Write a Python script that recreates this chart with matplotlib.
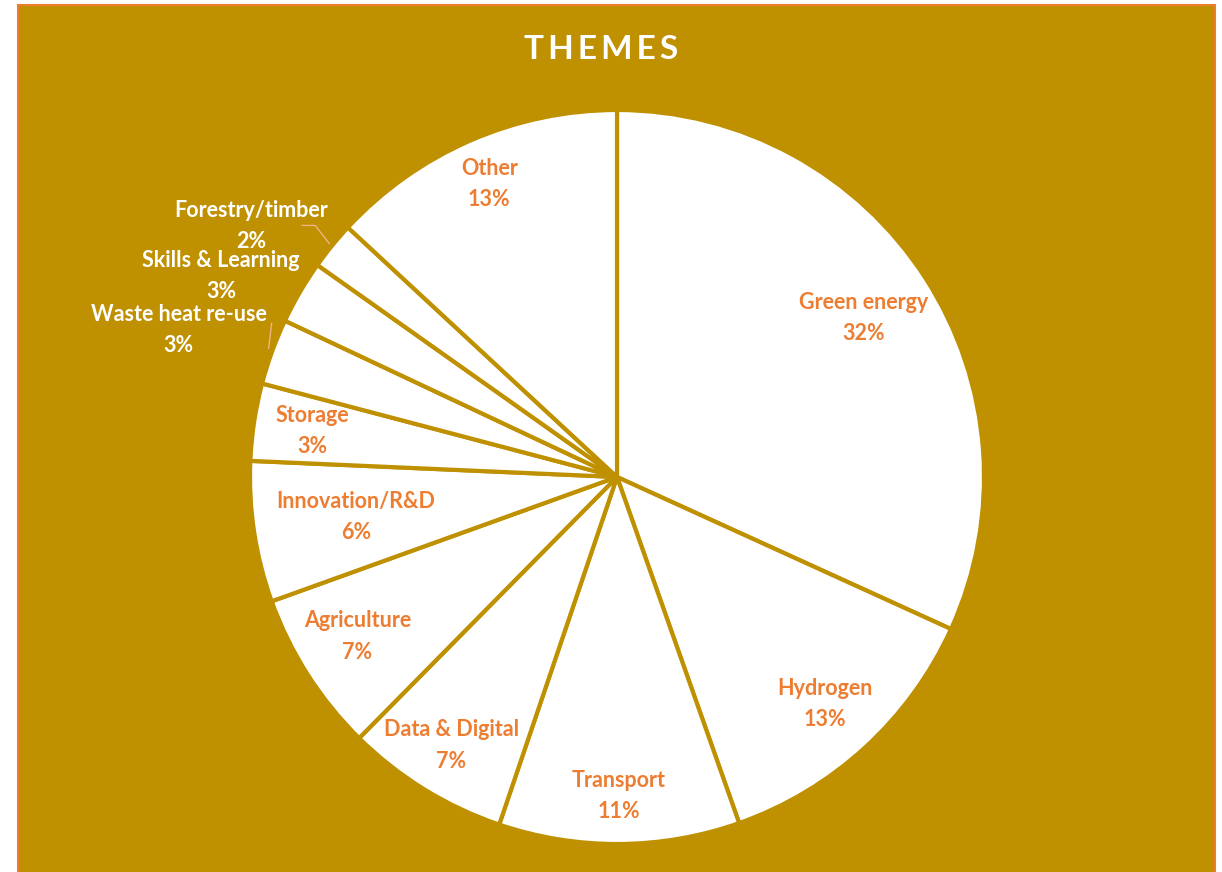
import numpy as np
import matplotlib
matplotlib.use("Agg")
import matplotlib.pyplot as plt
from matplotlib.patches import Rectangle

plt.rcParams['font.family'] = ['Lato', 'DejaVu Sans']

# data (share of themes, %)
themes = ['Green energy', 'Hydrogen', 'Transport', 'Data & Digital', 'Agriculture',
          'Innovation/R&D', 'Storage', 'Waste heat re-use', 'Skills & Learning',
          'Forestry/timber', 'Other']
shares = [31.8, 12.8, 10.6, 7.2, 7.1, 6.2, 3.4, 2.9, 2.8, 2.1, 13.1]
pct_labels = ['32%', '13%', '11%', '7%', '7%', '6%', '3%', '3%', '3%', '2%', '13%']

# label placement: radius (fraction of pie radius) and angle nudge (deg)
label_r = [0.80, 0.84, 0.87, 0.86, 0.83, 0.72, 0.84, 1.26, 1.21, 1.21, 0.87]
label_dang = [0, 0, 0, 0, -1, 0, 0, 1.4, 3.3, 4.6, 0]
outside = [False] * 7 + [True, True, True] + [False]

GOLD = '#BF9000'
ORANGE = '#ED7D31'

W, H = 1222, 872
fig = plt.figure(figsize=(W / 100, H / 100), dpi=100, facecolor='white')
ax = fig.add_axes([0, 0, 1, 1])

# gold panel with thin orange border
ax.add_patch(Rectangle((18, -5), 1197, H, facecolor=GOLD,
                       edgecolor=ORANGE, linewidth=1.5, zorder=0))

cx, cy, R = 617, H - 477, 367
wedges, _ = ax.pie(shares, startangle=90, counterclock=False, center=(cx, cy),
                   radius=R, colors=['white'] * len(shares),
                   wedgeprops=dict(edgecolor=GOLD, linewidth=3), frame=True)
ax.set_xlim(0, W)
ax.set_ylim(0, H)
ax.set_aspect('equal')
ax.axis('off')

for i, w in enumerate(wedges):
    mid = (w.theta1 + w.theta2) / 2
    ang = np.deg2rad(mid + label_dang[i])
    x = cx + label_r[i] * R * np.cos(ang)
    y = cy + label_r[i] * R * np.sin(ang)
    col = 'white' if outside[i] else ORANGE
    ax.text(x, y, themes[i] + '\n' + pct_labels[i], ha='center', va='center',
            color=col, fontsize=15.5, fontweight='bold', linespacing=1.6, zorder=5)

# leader lines for the two outside labels that have them
def edge_pt(i, r=1.0):
    w = wedges[i]
    a = np.deg2rad((w.theta1 + w.theta2) / 2)
    return cx + r * R * np.cos(a), cy + r * R * np.sin(a)

ex, ey = edge_pt(9, 1.01)
ax.plot([ex, ex - 14, ex - 27], [ey, ey + 18, ey + 18], color='#F4B183', lw=1, zorder=4)
ex, ey = edge_pt(7, 1.01)
ax.plot([ex, ex + 3], [ey + 2, ey + 27], color='#F4B183', lw=1, zorder=4)

ax.text(W / 2 - 10, H - 50, '\u2009'.join('THEMES'), ha='center', va='center',
        color='white', fontsize=24, fontweight='bold')

fig.savefig('out.png', dpi=100, facecolor='white')
